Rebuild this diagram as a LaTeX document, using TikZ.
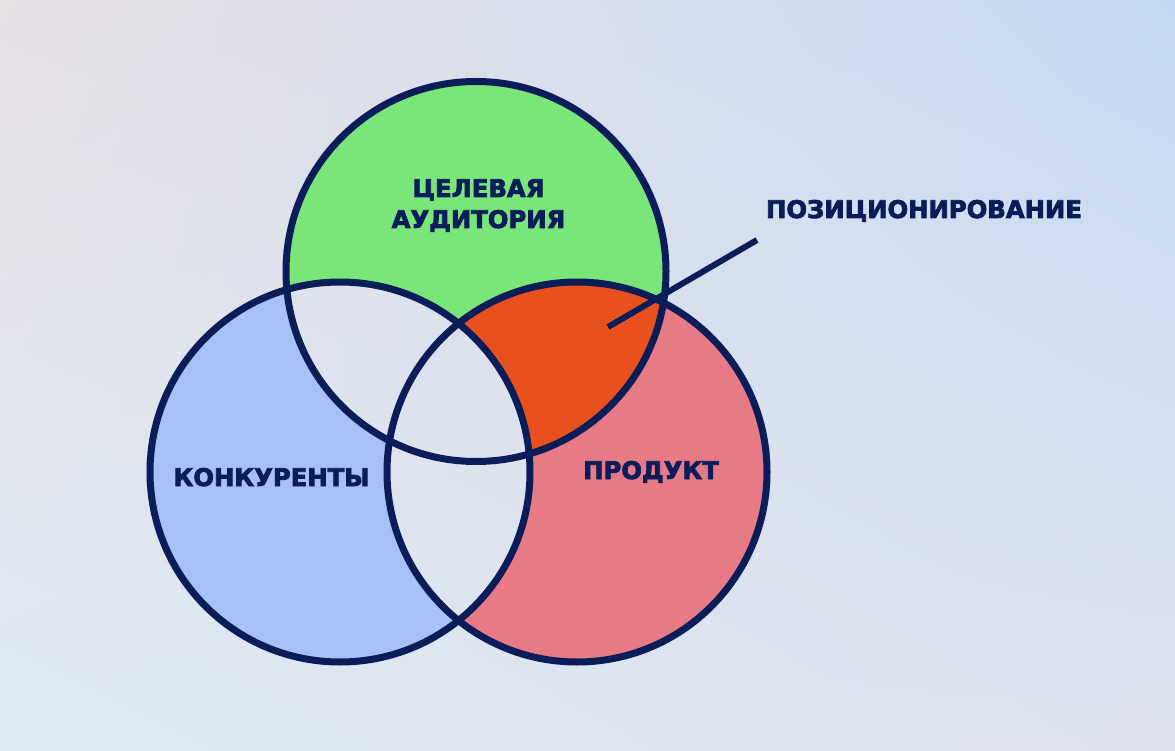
\documentclass[tikz,border=0pt]{standalone}
\usepackage{fontspec}
\setmainfont{DejaVu Sans}
\newfontfamily\heavyfont[FakeBold=3]{DejaVu Sans Bold}
\usetikzlibrary{shadings}
\definecolor{navy}{HTML}{0B1D58}
\definecolor{cgreen}{HTML}{7AE67A}
\definecolor{cblue}{HTML}{A8C0F5}
\definecolor{cpink}{HTML}{E87A86}
\definecolor{corange}{HTML}{E8501E}
\definecolor{bgTL}{RGB}{231,224,229}
\definecolor{bgTR}{RGB}{197,218,242}
\definecolor{bgBL}{RGB}{222,234,244}
\definecolor{bgBR}{RGB}{222,226,238}
\begin{document}
\begin{tikzpicture}[x=1pt,y=-1pt,
  bgsh/.style={upper left=bgTL, upper right=bgTR, lower left=bgBL, lower right=bgBR},
  outline/.style={draw=navy, line width=7pt},
  lbl/.style={text=navy, font=\heavyfont\fontsize{24.3}{31}\selectfont, inner sep=0pt, anchor=base}]
\useasboundingbox (0,0) rectangle (1175,751);
\shade[bgsh] (0,0) rectangle (1175,751);
\coordinate (ct) at (476,271.5);
\coordinate (cl) at (340,472);
\coordinate (cr) at (577,472);
% circle fills
\fill[cgreen] (ct) circle (190pt);
\fill[cblue] (cl) circle (190pt);
\fill[cpink] (cr) circle (190pt);
% positioning region: top and right
\begin{scope}
  \clip (ct) circle (190pt);
  \fill[corange] (cr) circle (190pt);
\end{scope}
% overlaps restored to background
\begin{scope}
  \clip (ct) circle (190pt);
  \clip (cl) circle (190pt);
  \shade[bgsh] (0,0) rectangle (1175,751);
\end{scope}
\begin{scope}
  \clip (cl) circle (190pt);
  \clip (cr) circle (190pt);
  \shade[bgsh] (0,0) rectangle (1175,751);
\end{scope}
% outlines
\draw[outline] (ct) circle (190pt);
\draw[outline] (cl) circle (190pt);
\draw[outline] (cr) circle (190pt);
% labels
\node[lbl, align=center] (ta) at (478.5,228) {ЦЕЛЕВАЯ\\АУДИТОРИЯ};
\node[lbl] (comp) at (271.5,486) {КОНКУРЕНТЫ};
\node[lbl] (prod) at (651,479) {ПРОДУКТ};
\node[lbl] (pos) at (924,218) {ПОЗИЦИОНИРОВАНИЕ};
% leader
\coordinate (ls) at (757,240);
\coordinate (le) at (608,327);
\draw[navy, line width=6pt] (ls) -- (le);
\end{tikzpicture}
\end{document}
